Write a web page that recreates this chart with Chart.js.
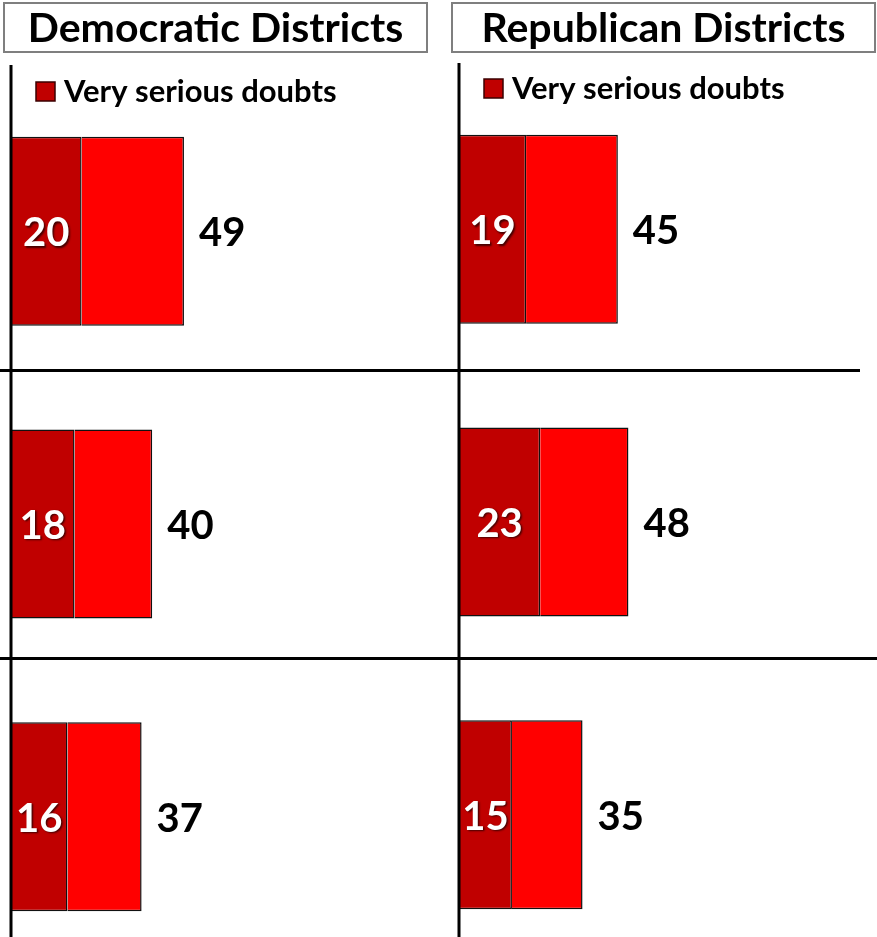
<!DOCTYPE html>
<html>
<head>
<meta charset="utf-8">
<script src="https://cdn.jsdelivr.net/npm/chart.js@4/dist/chart.umd.min.js"></script>
<style>
  html, body { margin: 0; padding: 0; background: #ffffff; overflow: hidden; }
  #wrap { position: relative; width: 877px; height: 937px; overflow: hidden; }
  canvas { position: absolute; top: 0; }
</style>
</head>
<body>
<div id="wrap">
  <canvas id="dem" width="448" height="963" style="left:0px;width:448px;height:963px"></canvas>
  <canvas id="rep" width="429" height="961" style="left:448px;width:429px;height:961px"></canvas>
</div>
<script>
// ---- data ----
const rows = ['Row 1', 'Row 2', 'Row 3'];
const panelTitles = ['Democratic Districts', 'Republican Districts'];
const seriesNames = ['Very serious doubts', 'Other serious doubts'];
const demVerySerious = [20, 18, 16];
const demTotal = [49, 40, 37];
const repVerySerious = [19, 23, 15];
const repTotal = [45, 48, 35];

const DARK = '#C00000';
const BRIGHT = '#FF0000';
const FONT = 'Lato, "Open Sans", "Liberation Sans", sans-serif';

function panelPlugin(title, very, total, sepEnds, sepOffsets) {
  return {
    id: 'panelDecor',
    afterDatasetsDraw(chart) {
      const ctx = chart.ctx;
      const xs = chart.scales.x;
      const ys = chart.scales.y;
      const x0 = xs.getPixelForValue(0);

      // separators between rows
      ctx.save();
      ctx.strokeStyle = '#000';
      ctx.lineWidth = 3;
      for (let i = 0; i < rows.length - 1; i++) {
        const yb = (ys.getPixelForValue(i) + ys.getPixelForValue(i + 1)) / 2 + sepOffsets[i];
        ctx.beginPath();
        ctx.moveTo(0, Math.round(yb) + 0.5);
        ctx.lineTo(sepEnds[i], Math.round(yb) + 0.5);
        ctx.stroke();
      }
      // vertical axis line
      ctx.beginPath();
      ctx.moveTo(x0, chart.chartArea.top - 20);
      ctx.lineTo(x0, chart.height);
      ctx.stroke();
      ctx.restore();

      // inner labels (very serious) and total labels
      const m0 = chart.getDatasetMeta(0);
      const m1 = chart.getDatasetMeta(1);
      ctx.save();
      ctx.font = 'bold 40px ' + FONT;
      ctx.textBaseline = 'middle';
      for (let i = 0; i < rows.length; i++) {
        const b0 = m0.data[i];
        const b1 = m1.data[i];
        ctx.save();
        ctx.shadowColor = 'rgba(0,0,0,0.65)';
        ctx.shadowOffsetX = 1.5;
        ctx.shadowOffsetY = 1.5;
        ctx.shadowBlur = 2;
        ctx.fillStyle = '#ffffff';
        ctx.textAlign = 'center';
        ctx.fillText(String(very[i]), (b0.x + b0.base) / 2, b0.y + 2);
        ctx.restore();
        ctx.fillStyle = '#000000';
        ctx.textAlign = 'left';
        ctx.fillText(String(total[i]), b1.x + 15, b1.y + 2);
      }
      ctx.restore();

      // title box
      ctx.save();
      ctx.strokeStyle = '#7f7f7f';
      ctx.lineWidth = 2;
      ctx.strokeRect(title.boxL, 3, title.boxW, 49);
      ctx.font = 'bold 41px ' + FONT;
      ctx.fillStyle = '#000';
      ctx.textAlign = 'center';
      ctx.textBaseline = 'middle';
      ctx.fillText(title.text, title.boxL + title.boxW / 2, 29);
      ctx.restore();

      // legend
      ctx.save();
      const ly = chart.chartArea.top + title.legDy;
      ctx.fillStyle = DARK;
      ctx.fillRect(x0 + 25, ly - 9, 19, 19);
      ctx.strokeStyle = '#3a0000';
      ctx.lineWidth = 1.5;
      ctx.strokeRect(x0 + 25, ly - 9, 19, 19);
      ctx.font = 'bold 31px ' + FONT;
      ctx.fillStyle = '#000';
      ctx.textAlign = 'left';
      ctx.textBaseline = 'middle';
      ctx.fillText(seriesNames[0], x0 + 53, ly + 1);
      ctx.restore();
    }
  };
}

function makeChart(id, very, total, padRight, padTop, title, sepEnds, sepOffsets) {
  const rest = total.map((t, i) => t - very[i]);
  return new Chart(document.getElementById(id), {
    type: 'bar',
    data: {
      labels: rows,
      datasets: [
        { label: seriesNames[0], data: very, backgroundColor: DARK, borderColor: '#111111', borderWidth: 1.5 },
        { label: seriesNames[1], data: rest, backgroundColor: BRIGHT, borderColor: '#111111', borderWidth: 1.5 }
      ]
    },
    options: {
      indexAxis: 'y',
      responsive: false,
      animation: false,
      devicePixelRatio: 1,
      barPercentage: 0.646,
      categoryPercentage: 1,
      layout: { padding: { left: 11, right: padRight, top: padTop, bottom: 0 } },
      plugins: { legend: { display: false }, tooltip: { enabled: false }, title: { display: false } },
      scales: {
        x: { type: 'linear', min: 0, max: 100, stacked: true, display: false },
        y: { type: 'category', stacked: true, offset: true, display: false }
      }
    },
    plugins: [panelPlugin(title, very, total, sepEnds, sepOffsets)]
  });
}

makeChart('dem', demVerySerious, demTotal, 84, 85,
  { text: panelTitles[0], boxL: 4, boxW: 423, legDy: 6 }, [448, 448], [-8, -12]);
makeChart('rep', repVerySerious, repTotal, 65, 83,
  { text: panelTitles[1], boxL: 4, boxW: 423, legDy: 5 }, [412, 429], [-6, -10]);
</script>
</body>
</html>
